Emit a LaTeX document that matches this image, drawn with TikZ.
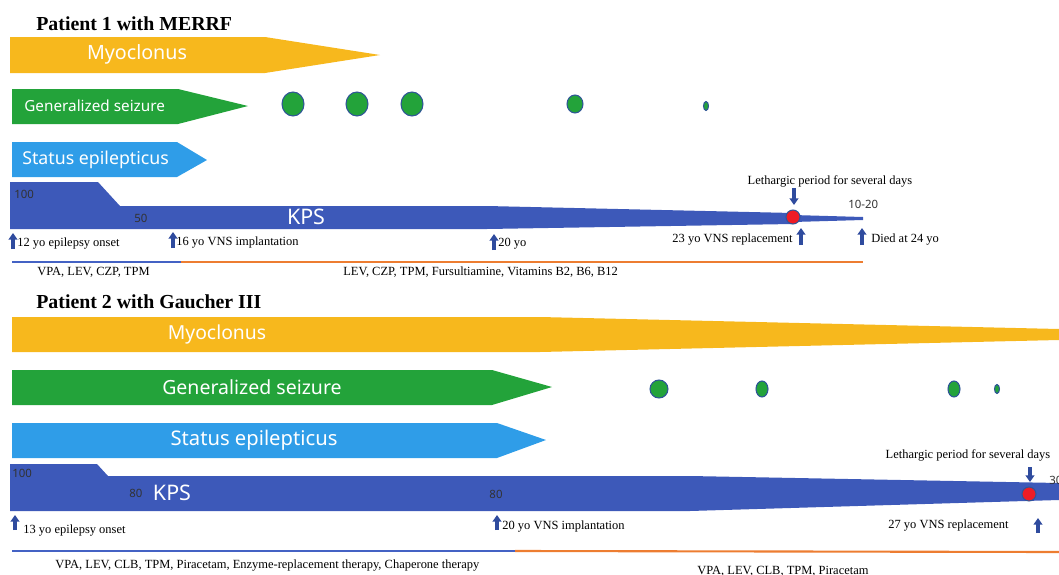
\documentclass[tikz,border=0pt]{standalone}
\usepackage{fontspec}
\setmainfont{Liberation Serif}
\setsansfont{Noto Sans}
\usetikzlibrary{arrows.meta}

\definecolor{myoyellow}{RGB}{247,184,29}
\definecolor{gsgreen}{RGB}{35,163,58}
\definecolor{seblue}{RGB}{47,157,232}
\definecolor{kpsblue}{RGB}{61,89,185}
\definecolor{markblue}{RGB}{47,75,158}
\definecolor{dotedge}{RGB}{47,85,151}
\definecolor{lethred}{RGB}{238,28,37}
\definecolor{rxorange}{RGB}{237,125,49}
\definecolor{rxblue}{RGB}{68,98,196}
\definecolor{numgray}{RGB}{50,50,50}

\begin{document}
\begin{tikzpicture}[x=0.02cm,y=-0.02cm,
    bartext/.style={text=white,font=\sffamily\fontsize{#1}{#1}\selectfont,inner sep=0pt},
    kpsnum/.style={text=numgray,font=\sffamily\fontsize{6.5}{7}\selectfont,inner sep=0pt},
    note/.style={font=\fontsize{7.1}{8.5}\selectfont,inner sep=0pt},
    ptitle/.style={font=\bfseries\fontsize{11.3}{13}\selectfont,inner sep=0pt,anchor=west},
    agemark/.style={markblue,line width=2pt,-{Triangle[width=5pt,length=3.8pt]}},
    seizdot/.style={fill=gsgreen,draw=dotedge,line width=0.6pt},
    lethdot/.style={fill=lethred,draw=dotedge,line width=0.6pt},
    rxline/.style={line width=1.2pt}]
    \useasboundingbox (0,0) rectangle (1059,575);
    \clip (0,0) rectangle (1059,575);

    % ---------------- Patient 1 ----------------
    \node[ptitle] (p1title) at (36,24) {Patient 1 with MERRF};

    % Symptom bars
    \fill[myoyellow] (10,37) -- (265,37) -- (380,55) -- (265,73) -- (10,73) -- cycle;
    \node[bartext=11.2] (p1myo) at (137,54) {Myoclonus};
    \fill[gsgreen] (12,89) -- (178,89) -- (248,106) -- (178,124) -- (12,124) -- cycle;
    \node[bartext=8.7,anchor=west] (p1gs) at (24,106) {Generalized seizure};
    \fill[seblue] (12,142) -- (177,142) -- (207,160) -- (177,177) -- (12,177) -- cycle;
    \node[bartext=10.1,anchor=west] (p1se) at (22,160) {Status epilepticus};

    % Isolated seizures
    \filldraw[seizdot] (293,104) ellipse (11 and 12);
    \filldraw[seizdot] (357,104) ellipse (11 and 12);
    \filldraw[seizdot] (412,104) ellipse (11 and 12);
    \filldraw[seizdot] (575,104) ellipse (8 and 9);
    \filldraw[seizdot] (706,106) ellipse (2.5 and 4.5);

    % KPS
    \fill[kpsblue] (10,182) -- (98,182) -- (120,206) -- (487,206) -- (793,213) -- (793,215)
        -- (863,217) -- (863,220) -- (793,222) -- (793,224) -- (487,229) -- (10,229) -- cycle;
    \node[kpsnum,anchor=west] (p1k100) at (14,194) {100};
    \node[kpsnum,anchor=west] (p1k50) at (134,218) {50};
    \node[bartext=12.2] (p1kps) at (306,217) {KPS};
    \node[kpsnum,anchor=west] (p1k10) at (848,204) {10-20};
    \filldraw[lethdot] (793,217) circle (7);

    % Lethargic period
    \node[note] (p1leth) at (830,181) {Lethargic period for several days};
    \coordinate (p1lethA) at (794,188);
    \coordinate (p1lethB) at (794,205);
    \draw[agemark] (p1lethA) -- (p1lethB);

    % Age marks
    \coordinate (p1onsetA) at (13,249);   \coordinate (p1onsetB) at (13,233);
    \coordinate (p1vnsA) at (173,248);    \coordinate (p1vnsB) at (173,232);
    \coordinate (p1twentyA) at (494,250); \coordinate (p1twentyB) at (494,234);
    \coordinate (p1replA) at (801,245);   \coordinate (p1replB) at (801,228);
    \coordinate (p1diedA) at (862,245);   \coordinate (p1diedB) at (862,228);
    \foreach \a/\b in {p1onsetA/p1onsetB,p1vnsA/p1vnsB,p1twentyA/p1twentyB,p1replA/p1replB,p1diedA/p1diedB}
        \draw[agemark] (\a) -- (\b);
    \node[note,anchor=west] (p1onset) at (17,244) {12 yo epilepsy onset};
    \node[note,anchor=west] (p1vns) at (176,243) {16 yo VNS implantation};
    \node[note,anchor=west] (p1twenty) at (498,244) {20 yo};
    \node[note,anchor=east] (p1repl) at (793,240) {23 yo VNS replacement};
    \node[note,anchor=west] (p1died) at (871,240) {Died at 24 yo};

    % Medication
    \coordinate (p1rxA) at (12,262);
    \coordinate (p1rxB) at (181,262);
    \coordinate (p1rxC) at (863,262);
    \draw[rxline,rxblue] (p1rxA) -- (p1rxB);
    \draw[rxline,rxorange] (p1rxB) -- (p1rxC);
    \node[note,anchor=west] (p1rx1) at (37,272) {VPA, LEV, CZP, TPM};
    \node[note,anchor=west] (p1rx2) at (343,272) {LEV, CZP, TPM, Fursultiamine, Vitamins B2, B6, B12};

    % ---------------- Patient 2 ----------------
    \node[ptitle] (p2title) at (36,302) {Patient 2 with Gaucher III};

    % Symptom bars
    \fill[myoyellow] (12,317) -- (540,317) -- (1059,329) -- (1059,340) -- (540,352) -- (12,352) -- cycle;
    \node[bartext=11] (p2myo) at (217,334) {Myoclonus};
    \fill[gsgreen] (12,370) -- (492,370) -- (552,387) -- (492,405) -- (12,405) -- cycle;
    \node[bartext=11.1] (p2gs) at (252,387) {Generalized seizure};
    \fill[seblue] (12,423) -- (497,423) -- (546,440) -- (497,458) -- (12,458) -- cycle;
    \node[bartext=11.5] (p2se) at (254,440) {Status epilepticus};

    % Isolated seizures
    \filldraw[seizdot] (659,389) ellipse (9 and 9);
    \filldraw[seizdot] (762,389) ellipse (6 and 8);
    \filldraw[seizdot] (954,389) ellipse (6 and 8);
    \filldraw[seizdot] (997,389) ellipse (2.5 and 4.5);

    % KPS
    \fill[kpsblue] (10,464) -- (97,464) -- (108,476) -- (690,476) -- (1059,483)
        -- (1059,500) -- (690,511) -- (10,511) -- cycle;
    \node[kpsnum,anchor=west] (p2k100) at (12,473) {100};
    \node[kpsnum,anchor=west] (p2k80a) at (129,493) {80};
    \node[bartext=12.2] (p2kps) at (172,493) {KPS};
    \node[kpsnum] (p2k80b) at (496,494) {80};
    \node[kpsnum,anchor=west] (p2k30) at (1049,480) {30};
    \filldraw[lethdot] (1029,494) circle (7);

    % Lethargic period
    \node[note] (p2leth) at (968,455) {Lethargic period for several days};
    \coordinate (p2lethA) at (1030,467);
    \coordinate (p2lethB) at (1030,482);
    \draw[agemark] (p2lethA) -- (p2lethB);

    % Age marks
    \coordinate (p2onsetA) at (15,530);  \coordinate (p2onsetB) at (15,515);
    \coordinate (p2vnsA) at (497,530);   \coordinate (p2vnsB) at (497,515);
    \coordinate (p2replA) at (1038,533); \coordinate (p2replB) at (1038,518);
    \foreach \a/\b in {p2onsetA/p2onsetB,p2vnsA/p2vnsB,p2replA/p2replB}
        \draw[agemark] (\a) -- (\b);
    \node[note,anchor=west] (p2onset) at (23,531) {13 yo epilepsy onset};
    \node[note,anchor=west] (p2vns) at (502,527) {20 yo VNS implantation};
    \node[note,anchor=west] (p2repl) at (888,526) {27 yo VNS replacement};

    % Medication
    \coordinate (p2rxA) at (12,551);
    \coordinate (p2rxB) at (515,551);
    \coordinate (p2rxC) at (1059,552);
    \draw[rxline,rxblue] (p2rxA) -- (p2rxB);
    \draw[rxline,rxorange] (p2rxB) -- (p2rxC);
    \node[note,anchor=west] (p2rx1) at (55,566) {VPA, LEV, CLB, TPM, Piracetam, Enzyme-replacement therapy, Chaperone therapy};
    \node[note,anchor=west] (p2rx2) at (697,571) {VPA, LEV, CLB, TPM, Piracetam};
\end{tikzpicture}
\end{document}
